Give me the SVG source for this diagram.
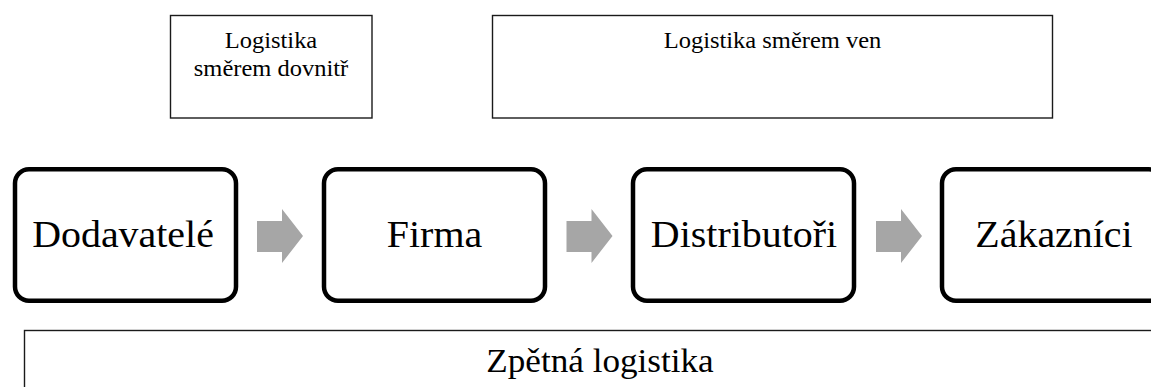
<svg xmlns="http://www.w3.org/2000/svg" width="1151" height="387" viewBox="0 0 1151 387">
  <style>
    text { fill: #000; text-anchor: middle; }
    .small { font-size: 23px; }
    .big { font-size: 37.5px; }
    .mid { font-size: 33px; }
    .frame { fill: #fff; stroke: #1a1a1a; stroke-width: 1.4; }
    .node { fill: #fff; stroke: #000; stroke-width: 4.5; }
    .flow { fill: #a6a6a6; }
  </style>
  <defs>
    <!-- block arrow between stages, drawn at origin -->
    <path id="blockArrow" class="flow" d="M0,12 H25 V0 L46,27 L25,54 V43 H0 Z"/>
  </defs>
  <rect width="1151" height="387" fill="#fff"/>

  <g font-family="Liberation Serif, Times New Roman, DejaVu Serif, serif">
    <g id="inbound">
      <rect class="frame" x="170.5" y="15.5" width="201.5" height="102.5"/>
      <text class="small" font-family="Liberation Serif, serif" transform="translate(271 48.3) scale(1.065 1)">Logistika</text>
      <text class="small" font-family="Liberation Serif, serif" transform="translate(271 75.5) scale(1.065 1)">směrem dovnitř</text>
    </g>

    <g id="outbound">
      <rect class="frame" x="492.5" y="15.5" width="560" height="102.5"/>
      <text class="small" font-family="Liberation Serif, serif" transform="translate(772.5 48.3) scale(1.065 1)">Logistika směrem ven</text>
    </g>

    <g id="suppliers">
      <rect class="node" x="15" y="169.3" width="221" height="131.5" rx="14"/>
      <text class="big" font-family="Liberation Serif, serif" transform="translate(123 247.3) scale(1.065 1)">Dodavatelé</text>
    </g>

    <g id="company">
      <rect class="node" x="324" y="169.3" width="221" height="131.5" rx="14"/>
      <text class="big" font-family="Liberation Serif, serif" transform="translate(434.5 247.3) scale(1.065 1)">Firma</text>
    </g>

    <g id="distributors">
      <rect class="node" x="633" y="169.3" width="221" height="131.5" rx="14"/>
      <text class="big" font-family="Liberation Serif, serif" transform="translate(744 247.3) scale(1.065 1)">Distributoři</text>
    </g>

    <g id="customers">
      <rect class="node" x="942" y="169.3" width="221" height="131.5" rx="14"/>
      <text class="big" font-family="Liberation Serif, serif" transform="translate(1054 247.3) scale(1.065 1)">Zákazníci</text>
    </g>

    <g id="connectors">
      <use href="#blockArrow" x="257" y="209"/>
      <use href="#blockArrow" x="566.5" y="209"/>
      <use href="#blockArrow" x="876" y="209"/>
    </g>

    <g id="reverse">
      <rect class="frame" x="24.5" y="330.5" width="1160" height="80"/>
      <text class="mid" font-family="Liberation Serif, serif" transform="translate(600 371.7) scale(1.065 1)">Zpětná logistika</text>
    </g>
  </g>
</svg>
